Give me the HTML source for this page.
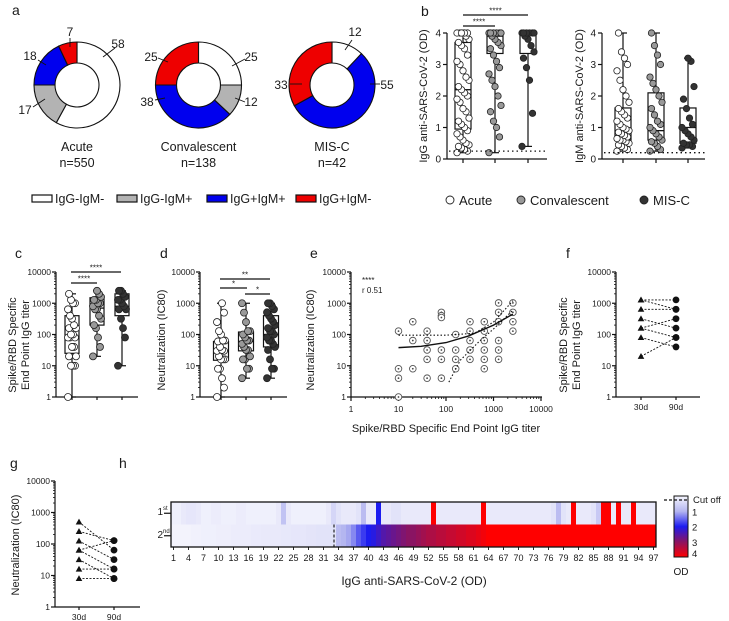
<!DOCTYPE html>
<html><head><meta charset="utf-8">
<style>
html,body{margin:0;padding:0;background:#fff;}
svg{display:block;font-family:"Liberation Sans",sans-serif;}
</style></head>
<body>
<svg id="fig" width="729" height="621" viewBox="0 0 729 621" xmlns="http://www.w3.org/2000/svg">
<defs>
<linearGradient id="odgrad" x1="0" y1="0" x2="0" y2="1">
<stop offset="0" stop-color="#f6f6fd"/><stop offset="0.25" stop-color="#b4b6f0"/><stop offset="0.5" stop-color="#1c1cf0"/><stop offset="0.75" stop-color="#8a1463"/><stop offset="1" stop-color="#ff0000"/>
</linearGradient>
</defs>
</svg>
<script>
// ---------- DATA ----------
const pieGroups=['Acute','Convalescent','MIS-C'];
const pieN=['n=550','n=138','n=42'];
const pieWhite=[58,25,12];
const pieGray=[17,12,0];
const pieBlue=[18,38,55];
const pieRed=[7,25,33];

const bIgGAcute=[0.2,0.25,0.3,0.35,0.4,0.45,0.5,0.6,0.7,0.8,0.9,1.0,1.1,1.2,1.3,1.5,1.6,1.8,1.9,2.0,2.1,2.2,2.3,2.5,2.6,2.8,3.0,3.1,3.3,3.5,3.6,3.7,3.8,3.9,4,4,4,4,4,4];
const bIgGConv=[0.2,0.7,1.0,1.2,1.5,1.7,2.0,2.3,2.5,2.7,2.9,3.1,3.3,3.5,3.6,3.7,3.8,3.9,4,4,4,4,4,4];
const bIgGMis=[0.4,1.45,2.5,2.9,3.2,3.4,3.6,3.8,3.9,4,4,4,4,4,4];
const bIgGMin=[0.2,0.2,0.4], bIgGQ1=[0.95,3.35,3.35], bIgGMed=[2.2,3.9,3.95], bIgGQ3=[3.7,4,4], bIgGMax=[4,4,4];
const bIgMAcute=[0.25,0.3,0.35,0.4,0.45,0.5,0.55,0.6,0.6,0.65,0.7,0.75,0.8,0.85,0.9,0.95,1.0,1.1,1.2,1.3,1.4,1.5,1.6,1.8,2.0,2.2,2.5,2.8,3.0,3.2,3.4,4.0];
const bIgMConv=[0.25,0.3,0.4,0.5,0.55,0.6,0.7,0.8,0.9,1.0,1.1,1.2,1.4,1.6,1.8,2.0,2.2,2.4,2.6,3.0,3.3,3.6,4.0];
const bIgMMis=[0.35,0.4,0.45,0.45,0.5,0.6,0.7,0.8,0.9,1.0,1.1,1.3,1.6,1.9,2.3,3.1,3.2];
const bIgMMin=[0.25,0.25,0.35], bIgMQ1=[0.6,0.6,0.5], bIgMMed=[0.9,0.9,1.0], bIgMQ3=[1.62,2.1,1.62], bIgMMax=[4,4,3.2];

const cAcute=[1,10,10,10,20,20,40,40,80,80,80,100,100,160,160,200,320,400,640,1000,1000,1280,2000];
const cConv=[20,40,80,160,200,320,400,640,640,800,1000,1000,1280,1280,1600,2000,2500];
const cMis=[10,80,160,320,640,640,800,1000,1280,1280,1600,2000,2500,2500];
const cMin=[1,20,10], cQ1=[25,200,400], cMed=[80,700,800], cQ3=[400,1500,2000], cMax=[2000,2500,2500];

const dAcute=[1,2,4,8,8,16,16,16,20,30,30,32,40,60,64,64,100,128,250,500,1000];
const dConv=[4,8,8,16,16,20,32,32,40,50,64,64,80,100,128,128,250,500,1000];
const dMis=[4,8,8,16,32,40,50,64,64,80,100,128,128,160,200,256,320,400,512,640,800,1000,1000];
const dMin=[1,4,4], dQ1=[15,30,40], dMed=[30,60,100], dQ3=[60,120,400], dMax=[1000,1000,1000];

const eX=[10,10,10,10,20,20,20,40,40,40,40,40,80,80,80,80,80,80,160,160,160,160,320,320,320,320,320,640,640,640,640,640,640,1280,1280,1280,1280,1280,1280,2560,2560,2560,2560];
const eY=[128,8,4,1,256,64,8,128,64,32,16,4,512,400,350,32,16,4,100,32,16,8,256,128,64,32,16,256,128,64,32,16,8,1024,512,256,64,32,16,1024,512,256,128];
const fitX=[10,30,100,300,1000,2560], fitY=[38,42,55,90,200,450];
const upX=[10,100,400,1000,2560], upY=[95,95,110,250,1200];
const loX=[115,200,500,1000,2560], loY=[3,15,60,150,600];

const f30=[1280,1280,640,320,160,160,80,20];
const f90=[1280,640,640,160,320,80,40,80];
const g30=[500,250,125,64,64,32,16,8];
const g90=[64,128,32,128,16,8,16,8];

const hRow1=[.1,.1,.2,.25,.25,.2,.1,.1,.15,.15,
.1,.1,.1,.15,.15,.1,.1,.1,.1,.1,
.1,.2,.8,.2,.1,.1,.1,.1,.1,.1,
.1,.2,.5,.3,.2,.2,.2,.3,.9,.2,
.2,2.0,.2,.2,.3,.3,.2,.2,.2,.2,
.2,.2,4,.2,.2,.2,.2,.2,.2,.2,
.2,.2,4,.2,.2,.2,.2,.2,.2,.2,
.2,.2,.2,.2,.2,.2,.3,.9,.3,.2,
4,.2,.2,.2,.3,.7,4,4,.2,4,
.2,.2,4,.2,.2,.2,.2];
const hRow2=[0.05,0.05,0.05,0.05,0.08,0.08,0.1,0.1,0.1,0.12,0.12,0.12,0.15,0.15,0.15,0.15,0.18,0.18,0.2,0.2,0.2,0.2,0.22,0.22,0.25,0.25,0.25,0.28,0.28,0.3,0.3,0.3,0.3,
0.9,1.0,1.1,1.3,1.6,1.8,2.0,2.1,2.3,2.5,2.6,2.7,2.8,2.9,3.0,3.0,3.1,3.2,3.3,3.3,3.4,3.4,3.5,3.5,3.6,3.6,3.7,3.7,3.8,3.9,
4,4,4,4,4,4,4,4,4,4,4,4,4,4,4,4,4,4,4,4,4,4,4,4,4,4,4,4,4,4,4,4,4,4];
const hCutoff=33;
const odTicks=[1,2,3,4];

// ---------- HELPERS ----------
const NS='http://www.w3.org/2000/svg';
const svg=document.getElementById('fig');
function el(tag,attrs,name,parent){
  const e=document.createElementNS(NS,tag);
  for(const k in attrs)e.setAttribute(k,attrs[k]);
  
  
  (parent||svg).appendChild(e);return e;
}
function txt(x,y,s,size,name,anchor,extra){
  const a={x:x,y:y,'font-size':size,fill:'#1a1a1a','text-anchor':anchor||'start'};
  if(extra)for(const k in extra)a[k]=extra[k];
  const t=el('text',a,name);t.textContent=s;return t;
}
function line(x1,y1,x2,y2,name,w,dash,col){
  const a={x1:x1,y1:y1,x2:x2,y2:y2,stroke:col||'#111','stroke-width':w||1.2};
  if(dash)a['stroke-dasharray']=dash;
  return el('line',a,name);
}
function rotTxt(x,y,s,size,name){
  return txt(x,y,s,size,name,'middle',{transform:'rotate(-90 '+x+' '+y+')'});
}
function logScale(p0,p1,lo,hi){const a=Math.log10(lo),b=Math.log10(hi);return v=>p0+(Math.log10(v)-a)/(b-a)*(p1-p0);}
function linScale(p0,p1,lo,hi){return v=>p0+(v-lo)/(hi-lo)*(p1-p0);}
function logYAxis(x,ys,name){
  line(x,ys(1),x,ys(10000),name);
  for(let d=0;d<=4;d++){
    const v=Math.pow(10,d);
    line(x-4,ys(v),x,ys(v),name+'-tick');
    txt(x-5,ys(v)+3,String(v),8.5,name+'-label','end');
    if(d<4)for(let m=2;m<10;m++)line(x-2,ys(v*m),x,ys(v*m),name+'-minor',0.8);
  }
}
function boxPlot(cx,w,ys,mn,q1,md,q3,mx,name){
  line(cx,ys(mn),cx,ys(mx),name+'-whisker',1.2);
  line(cx-4,ys(mn),cx+4,ys(mn),name+'-cap',1.2);
  line(cx-4,ys(mx),cx+4,ys(mx),name+'-cap',1.2);
  el('rect',{x:cx-w/2,y:ys(q3),width:w,height:ys(q1)-ys(q3),fill:'#fff',stroke:'#111','stroke-width':1.2},name+'-box');
  line(cx-w/2,ys(md),cx+w/2,ys(md),name+'-median',1.3);
}
function dots(cx,vals,ys,fill,r,spread,name){
  vals.forEach((v,i)=>{
    const dx=(((i*7)%9)-4)/4*spread;
    el('circle',{cx:cx+dx,cy:ys(v),r:r,fill:fill,stroke:'#222','stroke-width':0.8},name);
  });
}
function sig(x1,x2,y,s,name){line(x1,y,x2,y,name+'-bar',1.2);txt((x1+x2)/2,y-1.5,s,8,name+'-stars','middle');}
function odColor(v){
  const st=[[0,[246,246,253]],[1,[180,182,240]],[2,[28,28,240]],[3,[138,20,99]],[4,[255,0,0]]];
  v=Math.max(0,Math.min(4,v));
  for(let i=0;i<4;i++){if(v<=st[i+1][0]){const t=(v-st[i][0]);const a=st[i][1],b=st[i+1][1];
    return 'rgb('+a.map((c,k)=>Math.round(c+(b[k]-c)*t)).join(',')+')';}}
  return 'rgb(255,0,0)';
}

// ---------- PANEL LETTERS ----------
[['a',12,15],['b',421,16],['c',15,258],['d',160,258],['e',310,258],['f',566,258],['g',10,468],['h',119,468]].forEach(p=>txt(p[1],p[2],p[0],14,'panel-letter-'+p[0]));

// ---------- PANEL A: donuts ----------
const pieCx=[77,198.5,332], pieCy=85, R=43, r0=22;
const pieCols=['#ffffff','#b3b3b3','#0000ee','#ee0000'];
// label placement (layout): [textX, textY, leaderX1, leaderY1, leaderX2, leaderY2] per slice (white, gray, blue, red)
const pieLabelPos=[
  [[118,44,103,57,115,48],[25,110,33,107,45,99],[30,56,38,60,46,65],[70,32,70,38,70,47]],
  [[251,57,232,66,245,59],[251,102,235,98,245,102],[147,102,155,100,165,98],[151,57,158,58,168,62]],
  [[355,32,345,50,352,40],null,[387,85,370,84,380,84],[281,85,290,84,302,84]]
];
function arc(cx,cy,a0,a1,name,fill){
  const p=(a,rr)=>[cx+rr*Math.cos(a),cy+rr*Math.sin(a)];
  const large=(a1-a0)>Math.PI?1:0;
  const [x0,y0]=p(a0,R),[x1,y1]=p(a1,R),[x2,y2]=p(a1,r0),[x3,y3]=p(a0,r0);
  el('path',{d:`M${x0},${y0}A${R},${R} 0 ${large} 1 ${x1},${y1}L${x2},${y2}A${r0},${r0} 0 ${large} 0 ${x3},${y3}Z`,fill:fill,stroke:'#111','stroke-width':1.1},name);
}
pieGroups.forEach((g,gi)=>{
  const vals=[pieWhite[gi],pieGray[gi],pieBlue[gi],pieRed[gi]];
  const tot=vals.reduce((a,b)=>a+b,0);
  let a=-Math.PI/2;
  vals.forEach((v,k)=>{
    if(v<=0)return;
    const a1=a+v/tot*2*Math.PI;
    arc(pieCx[gi],pieCy,a,a1,'donut-'+g.toLowerCase()+'-slice-'+k,pieCols[k]);
    a=a1;
  });
  vals.forEach((v,k)=>{
    const lp=pieLabelPos[gi][k];
    if(v<=0||!lp)return;
    line(lp[2],lp[3],lp[4],lp[5],'donut-leader',0.9);
    txt(lp[0],lp[1]+4,String(v),12,'donut-value-label','middle');
  });
  txt(pieCx[gi],151,g,12.5,'donut-group-label','middle');
  txt(pieCx[gi],167,pieN[gi],12.5,'donut-n-label','middle');
});
const legA=[['IgG-IgM-',32,'#ffffff'],['IgG-IgM+',117,'#b3b3b3'],['IgG+IgM+',207,'#0000ee'],['IgG+IgM-',296,'#ee0000']];
legA.forEach(l=>{
  el('rect',{x:l[1],y:195,width:20,height:7,fill:l[2],stroke:'#111','stroke-width':1.2},'legend-swatch-'+l[0]);
  txt(l[1]+23,203,l[0],12.5,'legend-entry-'+l[0],'start');
});

// ---------- PANEL B ----------
const bY=linScale(159,33,0,4);
function odAxis(x,x1,name){
  line(x,159,x,33,name+'-y-axis');line(x,159,x1,159,name+'-x-axis');
  for(let v=0;v<=4;v++){line(x-4,bY(v),x,bY(v),name+'-tick');txt(x-6,bY(v)+3.5,String(v),10,name+'-tick-label','end');}
}
const bCatL=[463,495,528], bCatR=[623,656,688];
odAxis(447,547,'igg');odAxis(602,705,'igm');
rotTxt(427,96,'IgG anti-SARS-CoV-2 (OD)',11,'igg-y-axis-title');
rotTxt(583,96,'IgM anti-SARS-CoV-2 (OD)',11,'igm-y-axis-title');
bCatL.forEach(x=>line(x,159,x,163,'igg-x-tick'));
bCatR.forEach(x=>line(x,159,x,163,'igm-x-tick'));
const bFills=['#ffffff','#999999','#333333'];
[bIgGAcute,bIgGConv,bIgGMis].forEach((arr,i)=>{
  boxPlot(bCatL[i],16,bY,bIgGMin[i],bIgGQ1[i],bIgGMed[i],bIgGQ3[i],bIgGMax[i],'igg-box-'+i);
  dots(bCatL[i],arr,bY,bFills[i],3.2,6,'igg-point');
});
[bIgMAcute,bIgMConv,bIgMMis].forEach((arr,i)=>{
  boxPlot(bCatR[i],16,bY,bIgMMin[i],bIgMQ1[i],bIgMMed[i],bIgMQ3[i],bIgMMax[i],'igm-box-'+i);
  dots(bCatR[i],arr,bY,bFills[i],3.2,6,'igm-point');
});
line(449,bY(0.25),547,bY(0.25),'igg-cutoff-line',1.3,'1.5,3');
line(604,bY(0.2),705,bY(0.2),'igm-cutoff-line',1.3,'1.5,3');
sig(463,528,15,'****','igg-sig-acute-misc');
sig(463,495,26,'****','igg-sig-acute-conv');
const legB=[['Acute',450,'#ffffff'],['Convalescent',521,'#999999'],['MIS-C',644,'#333333']];
legB.forEach(l=>{
  el('circle',{cx:l[1],cy:200,r:4,fill:l[2],stroke:'#222','stroke-width':0.9},'legend-marker-'+l[0]);
  txt(l[1]+9,205,l[0],13,'legend-entry-'+l[0],'start');
});

// ---------- PANELS C,D ----------
const ysTop=logScale(397,272,1,10000);
const cCats=[72,97,122], dCats=[221,246,271];
logYAxis(56,ysTop,'c-y-axis');line(56,397,138,397,'c-x-axis');
cCats.forEach(x=>line(x,397,x,400,'c-x-tick'));
[cAcute,cConv,cMis].forEach((arr,i)=>{
  boxPlot(cCats[i],14,ysTop,cMin[i],cQ1[i],cMed[i],cQ3[i],cMax[i],'c-box-'+i);
  dots(cCats[i],arr,ysTop,bFills[i],3.5,4,'c-point');
});
sig(71,121,272,'****','c-sig-1');sig(71,97,283,'****','c-sig-2');
rotTxt(16,345,'Spike/RBD Specific',11,'c-y-axis-title-1');
rotTxt(29,345,'End Point IgG titer',11,'c-y-axis-title-2');

logYAxis(200,ysTop,'d-y-axis');line(200,397,287,397,'d-x-axis');
dCats.forEach(x=>line(x,397,x,400,'d-x-tick'));
[dAcute,dConv,dMis].forEach((arr,i)=>{
  boxPlot(dCats[i],15,ysTop,dMin[i],dQ1[i],dMed[i],dQ3[i],dMax[i],'d-box-'+i);
  dots(dCats[i],arr,ysTop,bFills[i],3.5,4,'d-point');
});
sig(220,270,279,'**','d-sig-1');sig(220,247,288,'*','d-sig-2');sig(245,270,294,'*','d-sig-3');
rotTxt(165,340,'Neutralization (IC80)',11,'d-y-axis-title');

// ---------- PANEL E ----------
const eXs=logScale(351,541,1,10000);
logYAxis(351,ysTop,'e-y-axis');line(351,397,542,397,'e-x-axis');
for(let d=0;d<=4;d++){const v=Math.pow(10,d);
  line(eXs(v),397,eXs(v),401,'e-x-tick');txt(eXs(v),412,String(v),8.5,'e-x-tick-label','middle');
  if(d<4)for(let m=2;m<10;m++)line(eXs(v*m),397,eXs(v*m),399,'e-x-minor',0.8);}
txt(446,432,'Spike/RBD Specific End Point IgG titer',11,'e-x-axis-title','middle');
rotTxt(314,340,'Neutralization (IC80)',11,'e-y-axis-title');
eX.forEach((x,i)=>{
  el('circle',{cx:eXs(x),cy:ysTop(eY[i]),r:3.3,fill:'#fff',stroke:'#555','stroke-width':0.9},'e-point');
  el('circle',{cx:eXs(x),cy:ysTop(eY[i]),r:0.9,fill:'#444'},'e-point-center');
});
function poly(xs,ys,name,dash,w){
  el('polyline',{points:xs.map((x,i)=>eXs(x)+','+ysTop(ys[i])).join(' '),fill:'none',stroke:'#111','stroke-width':w,'stroke-dasharray':dash||'none'},name);
}
poly(fitX,fitY,'e-fit-line',null,1.4);
poly(upX,upY,'e-ci-upper','1.5,2',1.1);
poly(loX,loY,'e-ci-lower','1.5,2',1.1);
txt(362,283,'****',8,'e-sig-stars','start');
txt(362,293,'r 0.51',8,'e-r-value','start');

// ---------- PANELS F,G ----------
function pairedPanel(ax,x1,ys,cats,a30,a90,name){
  logYAxis(ax,ys,name+'-y-axis');line(ax,ys(1),x1,ys(1),name+'-x-axis');
  ['30d','90d'].forEach((l,i)=>{line(cats[i],ys(1),cats[i],ys(1)+3,name+'-x-tick');txt(cats[i],ys(1)+13,l,8.5,name+'-x-tick-label','middle');});
  a30.forEach((v,i)=>line(cats[0],ys(v),cats[1],ys(a90[i]),name+'-pair-line',0.9,'2,1.5'));
  a30.forEach(v=>{const x=cats[0],y=ys(v);el('path',{d:`M${x},${y-3.3}L${x+3.3},${y+2.5}L${x-3.3},${y+2.5}Z`,fill:'#111'},name+'-30d-point');});
  a90.forEach(v=>el('circle',{cx:cats[1],cy:ys(v),r:3.4,fill:'#111'},name+'-90d-point'));
}
pairedPanel(616,700,ysTop,[641,676],f30,f90,'f');
rotTxt(567,345,'Spike/RBD Specific',11,'f-y-axis-title-1');
rotTxt(580,345,'End Point IgG titer',11,'f-y-axis-title-2');
const ysG=logScale(607,481,1,10000);
pairedPanel(55,140,ysG,[79,114],g30,g90,'g');
rotTxt(19,545,'Neutralization (IC80)',11,'g-y-axis-title');

// ---------- PANEL H ----------
const hx0=171,cw=5,hyTop=502,rowH=22.5;
[hRow1,hRow2].forEach((row,ri)=>{
  row.forEach((v,i)=>{
    el('rect',{x:hx0+i*cw,y:hyTop+ri*rowH,width:cw+0.3,height:rowH,fill:odColor(v)},'heatmap-cell');
  });
});
el('rect',{x:hx0,y:hyTop,width:97*cw,height:2*rowH,fill:'none',stroke:'#111','stroke-width':1.3},'heatmap-frame');
line(hx0+hCutoff*cw-2,hyTop+rowH,hx0+hCutoff*cw-2,hyTop+2*rowH,'heatmap-cutoff-line',1.1,'3,2');
txt(163,515,'1',10,'row-label-1st','end');txt(163,510,'st',6,'row-label-1st-sup','start');
txt(163,538,'2',10,'row-label-2nd','end');txt(163,533,'nd',6,'row-label-2nd-sup','start');
line(164,hyTop+rowH/2,171,hyTop+rowH/2,'row-tick');line(164,hyTop+1.5*rowH,171,hyTop+1.5*rowH,'row-tick');
const hy1=hyTop+2*rowH;
for(let i=1;i<=97;i+=3){
  const x=hx0+(i-0.5)*cw;
  line(x,hy1,x,hy1+3,'heatmap-x-tick',0.9);
  txt(x,hy1+14,String(i),9,'heatmap-x-tick-label','middle');
}
txt(414,585,'IgG anti-SARS-CoV-2 (OD)',12,'heatmap-x-axis-title','middle');
el('rect',{x:674,y:496,width:14,height:61,fill:'url(#odgrad)',stroke:'#111','stroke-width':1},'colorbar');
const cbY=linScale(496,557,0,4);
odTicks.forEach(v=>txt(692,cbY(v)+(v===4?0:4),String(v),9.5,'colorbar-tick-label','start'));
txt(681,575,'OD',10,'colorbar-title','middle');
line(664,500,688,500,'cutoff-legend-line',1.3,'3,2');
txt(693,503,'Cut off',9.5,'cutoff-legend-label','start');
</script>
</body></html>
